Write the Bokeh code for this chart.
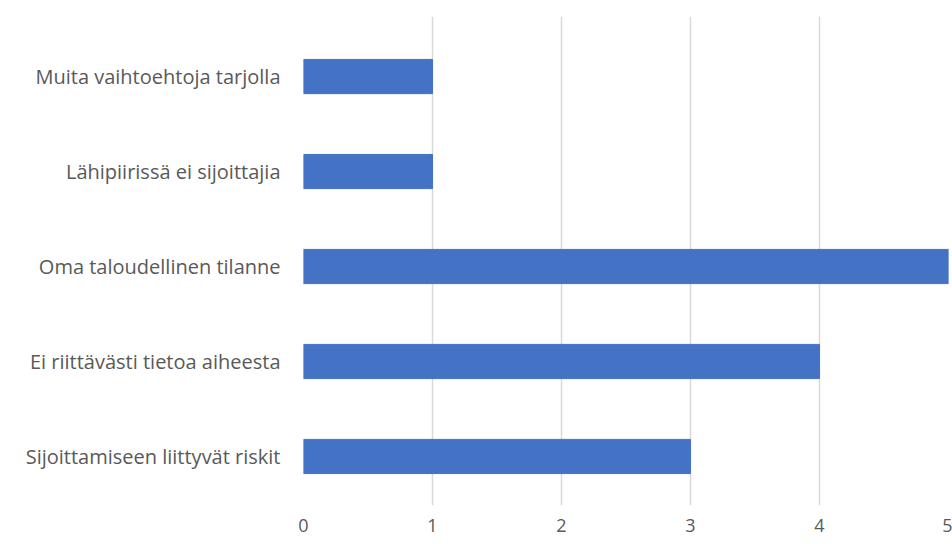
from bokeh.plotting import figure
from bokeh.models import FixedTicker, Range1d
from bokeh.embed import file_html
from bokeh.resources import INLINE

categories = [
    "Sijoittamiseen liittyvät riskit",
    "Ei riittävästi tietoa aiheesta",
    "Oma taloudellinen tilanne",
    "Lähipiirissä ei sijoittajia",
    "Muita vaihtoehtoja tarjolla",
]
values = [3, 4, 5, 1, 1]
x_ticks = [0, 1, 2, 3, 4, 5]

positions = list(range(len(categories)))

p = figure(
    width=952, height=536,
    output_backend="svg", toolbar_location=None,
    x_range=Range1d(0, 5), y_range=Range1d(-0.516, 4.632),
    min_border_left=303, min_border_right=4, min_border_top=16, min_border_bottom=31,
)
p.hbar(y=positions, right=values, left=0, height=0.36, color="#4472C4")

p.xaxis.ticker = FixedTicker(ticks=x_ticks)
p.yaxis.ticker = FixedTicker(ticks=positions)
p.yaxis.major_label_overrides = {i: c for i, c in enumerate(categories)}

for ax in (p.xaxis[0], p.yaxis[0]):
    ax.axis_line_color = None
    ax.major_tick_line_color = None
    ax.minor_tick_line_color = None
    ax.major_label_text_font = "Open Sans"
    ax.major_label_text_color = "#595959"
p.yaxis.major_label_text_font_size = "20px"
p.xaxis.major_label_text_font_size = "18px"
p.yaxis.major_label_standoff = 17
p.xaxis.major_label_standoff = 7

p.xgrid.grid_line_color = "#D9D9D9"
p.xgrid.grid_line_width = 1.5
p.ygrid.grid_line_color = None
p.outline_line_color = None

open("out.html", "w").write(file_html(p, INLINE))
